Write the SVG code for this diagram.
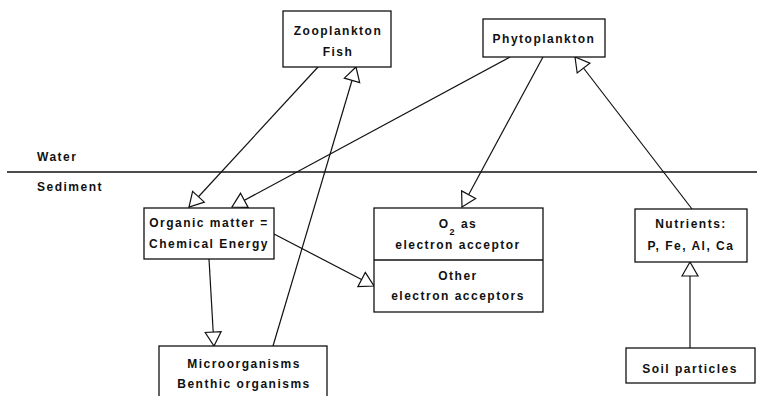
<svg xmlns="http://www.w3.org/2000/svg" width="757" height="396" viewBox="0 0 757 396">
<defs>
<marker id="tri" markerUnits="userSpaceOnUse" markerWidth="16" markerHeight="20" viewBox="-1 -1 16 18" refX="14" refY="8" orient="auto">
<path d="M0,0 L14,8 L0,16 Z" fill="#fff" stroke="#111" stroke-width="1.2" stroke-linejoin="miter"/>
</marker>
<style>
.box{fill:#fff;stroke:#111;stroke-width:1.3}
.t{font-family:"Liberation Sans",Arial,sans-serif;font-size:12px;font-weight:bold;letter-spacing:1.5px;fill:#111;text-anchor:middle}
.l{text-anchor:start}
.c{fill:none;stroke:#111;stroke-width:1.2}
</style>
</defs>
<rect width="757" height="396" fill="#fff"/>
<g id="waterline">
<line x1="7" y1="172" x2="757" y2="172" stroke="#111" stroke-width="1.3"/>
<text class="t l" x="37" y="161">Water</text>
<text class="t l" x="37" y="191">Sediment</text>
</g>
<g id="connectors">
<line class="c" x1="318" y1="67" x2="189" y2="207" marker-end="url(#tri)"/>
<line class="c" x1="510" y1="57" x2="232" y2="207" marker-end="url(#tri)"/>
<line class="c" x1="543" y1="57" x2="462" y2="207" marker-end="url(#tri)"/>
<line class="c" x1="274" y1="234" x2="374" y2="286" marker-end="url(#tri)"/>
<line class="c" x1="209" y1="259" x2="214" y2="346" marker-end="url(#tri)"/>
<line class="c" x1="273" y1="346" x2="356" y2="67" marker-end="url(#tri)"/>
<line class="c" x1="692" y1="209" x2="575" y2="57" marker-end="url(#tri)"/>
<line class="c" x1="690" y1="348" x2="690" y2="262" marker-end="url(#tri)"/>
</g>
<g id="zooplankton">
<rect class="box" x="283" y="11" width="108" height="56"/>
<text class="t" x="338" y="35">Zooplankton</text>
<text class="t" x="338" y="56">Fish</text>
</g>
<g id="phytoplankton">
<rect class="box" x="483" y="19" width="122" height="38"/>
<text class="t" x="544" y="43">Phytoplankton</text>
</g>
<g id="organic">
<rect class="box" x="144" y="208" width="130" height="51"/>
<text class="t" x="209" y="227">Organic matter =</text>
<text class="t" x="209" y="248">Chemical Energy</text>
</g>
<g id="acceptors">
<rect class="box" x="374" y="208" width="169" height="104"/>
<line x1="374" y1="260" x2="543" y2="260" stroke="#111" stroke-width="1.3"/>
<text class="t" x="458" y="228">O<tspan font-size="9" dy="7">2</tspan><tspan dy="-7"> as</tspan></text>
<text class="t" x="458" y="249">electron acceptor</text>
<text class="t" x="458" y="280">Other</text>
<text class="t" x="458" y="300">electron acceptors</text>
</g>
<g id="nutrients">
<rect class="box" x="635" y="209" width="112" height="53"/>
<text class="t" x="691" y="228">Nutrients:</text>
<text class="t" x="691" y="250">P, Fe, Al, Ca</text>
</g>
<g id="microorganisms">
<rect class="box" x="159" y="346" width="168" height="60"/>
<text class="t" x="244" y="368">Microorganisms</text>
<text class="t" x="244" y="388">Benthic organisms</text>
</g>
<g id="soil">
<rect class="box" x="626" y="348" width="129" height="35"/>
<text class="t" x="690" y="373">Soil particles</text>
</g>
</svg>
